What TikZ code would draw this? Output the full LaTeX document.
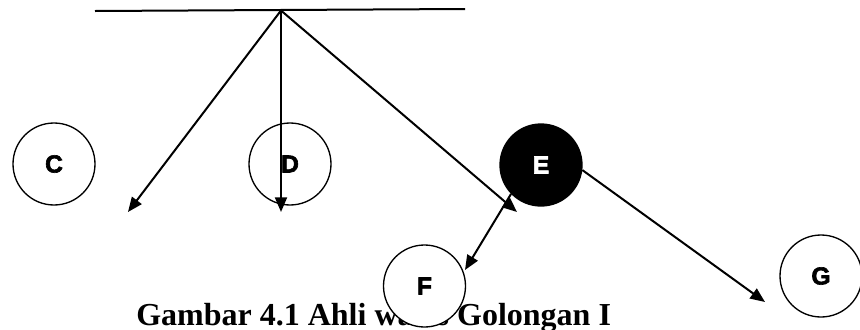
\documentclass[tikz,border=0pt]{standalone}
\usepackage{fontspec}
\setmainfont{Liberation Serif}
\newfontfamily\lettersans{Liberation Sans}[BoldFeatures={FakeBold=2.5}]
\usetikzlibrary{arrows.meta}
\begin{document}
\begin{tikzpicture}[x=0.75pt,y=-0.75pt,
  person/.style={circle,draw=black,line width=1pt,fill=white,minimum size=61.5pt,inner sep=0pt,
    font=\lettersans\bfseries\fontsize{18.5}{18.5}\selectfont},
  dead/.style={person,fill=black,text=white},
  link/.style={line width=1.5pt,-{Triangle[length=11pt,width=9pt]}}]
\useasboundingbox (0,0) rectangle (860,329);
% top line
\coordinate (L) at (95,11);
\coordinate (R) at (465,9);
\coordinate (apex) at (281,10.5);
\draw[line width=1.5pt] (L) -- (R);
% caption (drawn first, partly covered by F)
\node[anchor=base west,inner sep=0pt,font=\bfseries\fontsize{24}{24}\selectfont] (cap) at (136,325) {Gambar 4.1 Ahli waris Golongan I};
% persons
\node[person] (C) at (54,164) {C};
\node[person] (D) at (290,164) {D};
\node[dead] (E) at (541,165) {E};
\node[person] (F) at (424.5,286) {F};
\node[person] (G) at (821,276) {G};
% arrow end points
\coordinate (t1) at (128,212);
\coordinate (t2) at (281,212);
\coordinate (t3) at (517,212);
\coordinate (t4) at (465,270);
\coordinate (t5) at (765,302);
\draw[link] (apex) -- (t1);
\draw[link] (apex) -- (t2);
\draw[link] (apex) -- (t3);
\draw[link] (E.224) -- (t4);
\draw[link] (E.-7) -- (t5);
\end{tikzpicture}
\end{document}
